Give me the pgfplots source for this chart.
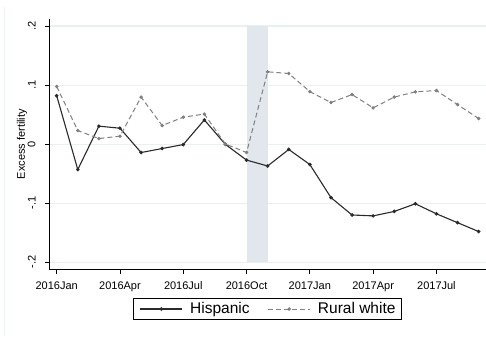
\documentclass[border=0pt]{standalone}
\usepackage{pgfplots}
\pgfplotsset{compat=1.18}
\usepackage{fontspec}
\setmainfont{Liberation Sans}
\definecolor{gridc}{HTML}{E8F0F1}
\definecolor{bandc}{HTML}{E1E7ED}
\definecolor{hisp}{HTML}{2A2A2A}
\definecolor{rural}{HTML}{808080}
\begin{document}
\begin{tikzpicture}[x=1bp,y=1bp]
\useasboundingbox (0,0) rectangle (486,336);
\fill[white] (0,0) rectangle (486,336);
\draw[color=gridc!70!white, line width=0.8bp] (4.7,0) -- (4.7,329);
\begin{axis}[
  at={(49.3bp,66.7bp)}, anchor=south west,
  scale only axis, width=436.7bp, height=250.3bp,
  xmin=-0.35, xmax=20.35, ymin=-0.212, ymax=0.212,
  axis x line*=bottom, axis y line*=left,
  axis line style={-, line width=0.9bp, black},
  tick align=outside, major tick length=4.5bp,
  tick style={line width=0.8bp, black},
  xtick={0,3,6,9,12,15,18},
  xticklabels={2016Jan,2016Apr,2016Jul,2016Oct,2017Jan,2017Apr,2017Jul},
  ytick={-0.2,-0.1,0,0.1,0.2},
  yticklabels={-.2,-.1,0,.1,.2},
  minor tick num=0,
  ymajorgrids, major grid style={color=gridc, line width=1.2bp},
  ticklabel style={font=\fontsize{11bp}{13bp}\selectfont},
  xticklabel style={anchor=north, inner sep=0pt},
  yticklabel style={rotate=90, anchor=south, inner sep=0pt},
  xticklabel shift=8bp, yticklabel shift=9bp,
  ylabel={Excess fertility},
  every axis y label/.style={at={(axis description cs:-0.0625,0.5)}, rotate=90, anchor=center, font=\fontsize{11bp}{13bp}\selectfont},
  legend columns=2,
  legend style={at={(0.5,-0.1586)}, anchor=center, draw=black, line width=0.9bp,
    font=\fontsize{15.5bp}{18bp}\selectfont, inner xsep=6bp, inner ysep=4bp,
    nodes={inner sep=0pt},
    /tikz/every odd column/.style={column sep=7.3bp},
    /tikz/every even column/.style={column sep=18bp}},
  legend image code/.code={\draw[mark repeat=2,mark phase=2,#1] plot coordinates {(0bp,0bp) (21bp,0bp) (42bp,0bp)};},
  clip=false,
]
\addplot[draw=none, fill=bandc, forget plot] coordinates {(9,-0.2) (10,-0.2) (10,0.2) (9,0.2)} -- cycle;
\addplot[hisp, line width=1.1bp, mark=*, mark size=1.2bp, mark options={solid, fill=hisp}] coordinates {
(0,0.082) (1,-0.043) (2,0.0305) (3,0.027) (4,-0.0142) (5,-0.0074) (6,-0.0007) (7,0.041) (8,-0.0005) (9,-0.027) (10,-0.037) (11,-0.009) (12,-0.0345) (13,-0.0905) (14,-0.120) (15,-0.1215) (16,-0.114) (17,-0.101) (18,-0.118) (19,-0.133) (20,-0.148)};
\addlegendentry{Hispanic}
\addplot[rural, line width=1bp, dash pattern=on 5bp off 3bp, mark=*, mark size=1.2bp, mark options={solid, fill=rural}] coordinates {
(0,0.0977) (1,0.023) (2,0.0095) (3,0.0135) (4,0.0797) (5,0.0315) (6,0.0457) (7,0.051) (8,0.0) (9,-0.014) (10,0.1225) (11,0.1197) (12,0.089) (13,0.0705) (14,0.084) (15,0.0615) (16,0.0797) (17,0.0886) (18,0.0908) (19,0.067) (20,0.0434)};
\addlegendentry{Rural white}
\end{axis}
\end{tikzpicture}
\end{document}
